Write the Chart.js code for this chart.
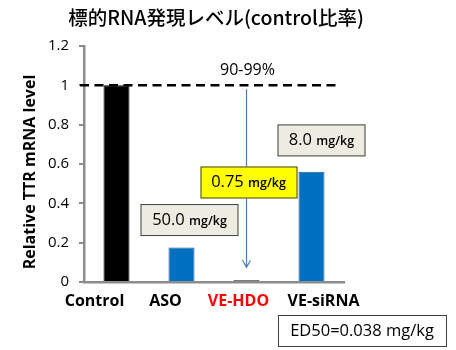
<!DOCTYPE html>
<html>
<head>
<meta charset="utf-8">
<script src="https://cdn.jsdelivr.net/npm/chart.js"></script>
<style>
  html, body { margin: 0; padding: 0; background: #fff; }
  #wrap { width: 456px; height: 350px; }
</style>
</head>
<body>
<div id="wrap"><canvas id="ttr-chart" width="456" height="350"></canvas></div>
<script>
  // values
  const categories = ["Control", "ASO", "VE-HDO", "VE-siRNA"];
  const relativeLevel = [1.0, 0.175, 0.01, 0.56];
  const barColors = ["#000000", "#0070C0", "#595959", "#0070C0"];
  const labelColors = ["#000000", "#000000", "#FF0000", "#000000"];
  const yTicks = [0, 0.2, 0.4, 0.6, 0.8, 1, 1.2];

  const chartTitle = "標的RNA発現レベル(control比率)";
  const yTitle = "Relative TTR mRNA level";
  const reductionText = "90-99%";
  const ed50Text = "ED50=0.038 mg/kg";

  const JP = '"Noto Sans CJK JP", "Noto Sans", sans-serif';
  const SANS = '"Open Sans", "Noto Sans", sans-serif';

  function box(ctx, x, y, w, h, fill) {
    ctx.save();
    ctx.fillStyle = fill;
    ctx.strokeStyle = "#404040";
    ctx.lineWidth = 1;
    ctx.fillRect(x, y, w, h);
    ctx.strokeRect(x + 0.5, y + 0.5, w - 1, h - 1);
    ctx.restore();
  }

  // "50.0" big + " mg/kg" smaller, centred in a box
  function doseText(ctx, cx, cy, num) {
    ctx.save();
    ctx.textBaseline = "middle";
    ctx.fillStyle = "#000";
    ctx.font = "16.5px " + SANS;
    const w1 = ctx.measureText(num + " ").width;
    ctx.font = "600 12.5px " + SANS;
    const w2 = ctx.measureText("mg/kg").width;
    let x = cx - (w1 + w2) / 2;
    ctx.textAlign = "left";
    ctx.font = "16.5px " + SANS;
    ctx.fillText(num + " ", x, cy);
    ctx.font = "600 12.5px " + SANS;
    ctx.fillText("mg/kg", x + w1, cy + 1);
    ctx.restore();
  }

  const extras = {
    id: "extras",
    afterDraw(chart) {
      const ctx = chart.ctx;
      const xs = chart.scales.x;
      const ys = chart.scales.y;

      // title
      ctx.save();
      ctx.font = "500 19.5px " + JP;
      ctx.fillStyle = "#000";
      ctx.textAlign = "center";
      ctx.textBaseline = "middle";
      ctx.fillText(chartTitle, 216, 18);
      ctx.restore();

      // y axis title
      ctx.save();
      ctx.translate(30, 172);
      ctx.rotate(-Math.PI / 2);
      ctx.font = "bold 16px " + SANS;
      ctx.fillStyle = "#000";
      ctx.textAlign = "center";
      ctx.textBaseline = "middle";
      ctx.fillText(yTitle, 0, 0);
      ctx.restore();

      // category labels (placed slightly off-centre as in the figure)
      const labelShift = [-22, -16, -8, 12];
      ctx.save();
      ctx.font = "bold 16px " + SANS;
      ctx.textAlign = "center";
      ctx.textBaseline = "middle";
      categories.forEach((c, i) => {
        ctx.fillStyle = labelColors[i];
        ctx.fillText(c, xs.getPixelForValue(i) + labelShift[i], ys.getPixelForValue(0) + 19);
      });
      ctx.restore();

      // dashed control level line
      const y1 = ys.getPixelForValue(1);
      ctx.save();
      ctx.strokeStyle = "#000";
      ctx.lineWidth = 2.5;
      ctx.setLineDash([9, 5.5]);
      ctx.beginPath();
      ctx.moveTo(xs.left - 4, y1);
      ctx.lineTo(338, y1);
      ctx.stroke();
      ctx.restore();

      // reduction arrow over VE-HDO
      const ax = xs.getPixelForValue(2);
      const aTop = ys.getPixelForValue(0.98);
      const aBot = ys.getPixelForValue(0.075);
      ctx.save();
      ctx.strokeStyle = "#4A7EBB";
      ctx.lineWidth = 1.2;
      ctx.beginPath();
      ctx.moveTo(ax, aTop);
      ctx.lineTo(ax, aBot);
      ctx.moveTo(ax - 4, aBot - 7);
      ctx.lineTo(ax, aBot);
      ctx.lineTo(ax + 4, aBot - 7);
      ctx.stroke();
      ctx.restore();

      ctx.save();
      ctx.font = "16px " + SANS;
      ctx.fillStyle = "#000";
      ctx.textAlign = "center";
      ctx.textBaseline = "middle";
      ctx.fillText(reductionText, ax + 1, 70);
      ctx.restore();

      // dose boxes
      const beige = "#EEECE1";
      let cy = ys.getPixelForValue(0.315);
      let cx = xs.getPixelForValue(1) + 8;
      box(ctx, cx - 49, cy - 16, 98, 32, beige);
      doseText(ctx, cx, cy, "50.0");

      cy = ys.getPixelForValue(0.506);
      cx = xs.getPixelForValue(2) + 2;
      box(ctx, cx - 48, cy - 16, 97, 32, "#FFFF00");
      doseText(ctx, cx, cy, "0.75");

      cy = ys.getPixelForValue(0.72);
      cx = xs.getPixelForValue(3) + 10;
      box(ctx, cx - 44, cy - 16, 88, 32, beige);
      doseText(ctx, cx, cy, "8.0");

      // ED50 box under the plot
      box(ctx, 278, 315, 169, 32, "#FFFFFF");
      ctx.save();
      ctx.font = "16.5px " + SANS;
      ctx.fillStyle = "#000";
      ctx.textAlign = "center";
      ctx.textBaseline = "middle";
      ctx.fillText(ed50Text, 362, 331);
      ctx.restore();
    }
  };

  new Chart(document.getElementById("ttr-chart"), {
    type: "bar",
    data: {
      labels: categories,
      datasets: [{
        data: relativeLevel,
        backgroundColor: barColors,
        borderColor: ["#000000", "#2F5597", "#404040", "#2F5597"],
        borderWidth: 1,
        categoryPercentage: 0.8,
        barPercentage: 0.5,
      }],
    },
    options: {
      responsive: false,
      animation: false,
      devicePixelRatio: 1,
      layout: { padding: { top: 46, right: 112, left: 0, bottom: 0 } },
      plugins: { legend: { display: false }, tooltip: { enabled: false }, title: { display: false } },
      scales: {
        x: {
          ticks: { display: false },
          grid: { display: false },
          border: { color: "#8C8C8C", width: 2.5 },
          afterFit(s) { s.height = 68; },
        },
        y: {
          min: 0,
          max: 1.2,
          afterBuildTicks(s) { s.ticks = yTicks.map(v => ({ value: v })); },
          ticks: {
            color: "#000",
            font: { family: SANS, size: 15 },
            padding: 10,
            callback: v => String(+v.toFixed(1)),
          },
          grid: { drawOnChartArea: false, drawTicks: true, tickLength: 5, color: "#8C8C8C", lineWidth: 2 },
          border: { color: "#8C8C8C", width: 2.5 },
          afterFit(s) { s.width = 84; },
        },
      },
    },
    plugins: [extras],
  });
</script>
</body>
</html>
